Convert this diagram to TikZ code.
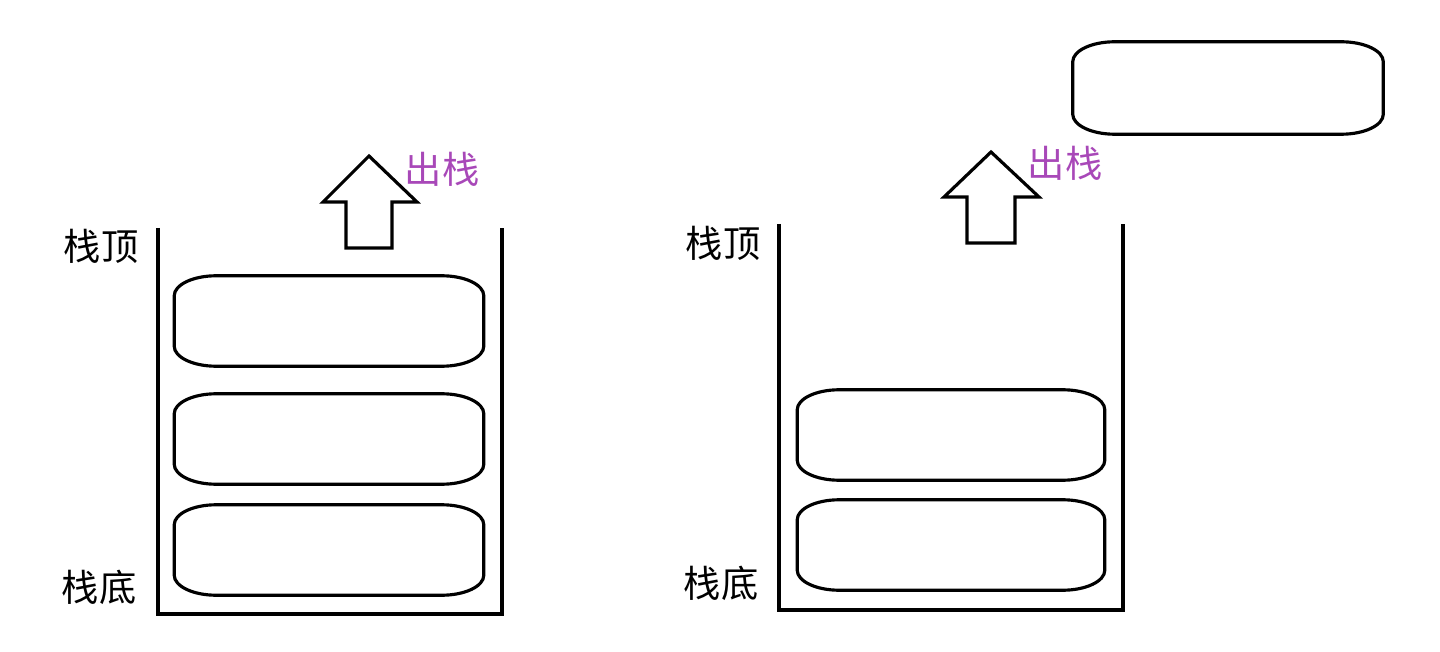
\documentclass[tikz,border=0pt]{standalone}
\usepackage{fontspec}
\setmainfont{Noto Sans CJK SC}
\definecolor{popcolor}{RGB}{168,72,184}

\begin{document}
\begin{tikzpicture}[
    x=0.01cm, y=-0.01cm,
    elem/.style={rectangle, minimum width=3.08cm, minimum height=0.89cm, inner sep=0pt},
    wall/.style={line width=0.9pt, line join=miter},
    stacktext/.style={font=\fontsize{10.6}{12}\selectfont, inner sep=0pt},
    poptext/.style={stacktext, text=popcolor}
]
\useasboundingbox (0,0) rectangle (1440,652);

% Left: full stack
\coordinate (ltl) at (158,228);
\coordinate (lbl) at (158,614);
\coordinate (lbr) at (502,614);
\coordinate (ltr) at (502,228);
\draw[wall] (ltl) -- (lbl) -- (lbr) -- (ltr);

\node[elem] (a1) at (329,321) {};
\node[elem] (a2) at (329,439) {};
\node[elem] (a3) at (329,550) {};

\node[stacktext] (ltop) at (101,246) {栈顶};
\node[stacktext] (lbot) at (99,587) {栈底};

% Right: after pop
\coordinate (rtl) at (779,224);
\coordinate (rbl) at (779,610);
\coordinate (rbr) at (1123,610);
\coordinate (rtr) at (1123,224);
\draw[wall] (rtl) -- (rbl) -- (rbr) -- (rtr);

\node[elem, minimum width=3.06cm] (b1) at (951,435) {};
\node[elem, minimum width=3.06cm] (b2) at (951,545) {};
\node[elem, minimum width=3.09cm, minimum height=0.91cm] (out) at (1228,88) {};

\node[stacktext] (rtop) at (723,243) {栈顶};
\node[stacktext] (rbot) at (721,583) {栈底};

% element outlines
\foreach \n in {a1,a2,a3,b1,b2,out}
  \draw[wall] ([xshift=0.42cm]\n.north west) -- ([xshift=-0.42cm]\n.north east)
    arc[start angle=90, end angle=0, x radius=0.42cm, y radius=0.2cm]
    -- ([yshift=0.2cm]\n.south east)
    arc[start angle=0, end angle=-90, x radius=0.42cm, y radius=0.2cm]
    -- ([xshift=0.42cm]\n.south west)
    arc[start angle=270, end angle=180, x radius=0.42cm, y radius=0.2cm]
    -- ([yshift=-0.2cm]\n.north west)
    arc[start angle=180, end angle=90, x radius=0.42cm, y radius=0.2cm] -- cycle;

% pop arrows
\draw[wall] (346,248) -- (346,202) -- (323,202) -- (369,156) -- (417,202) -- (392,202) -- (392,248) -- cycle;
\node[poptext] (lpop) at (442,169) {出栈};

\draw[wall] (967,243) -- (967,197) -- (944,197) -- (991,152) -- (1039,197) -- (1015,197) -- (1015,243) -- cycle;
\node[poptext] (rpop) at (1065,163) {出栈};

\end{tikzpicture}
\end{document}
